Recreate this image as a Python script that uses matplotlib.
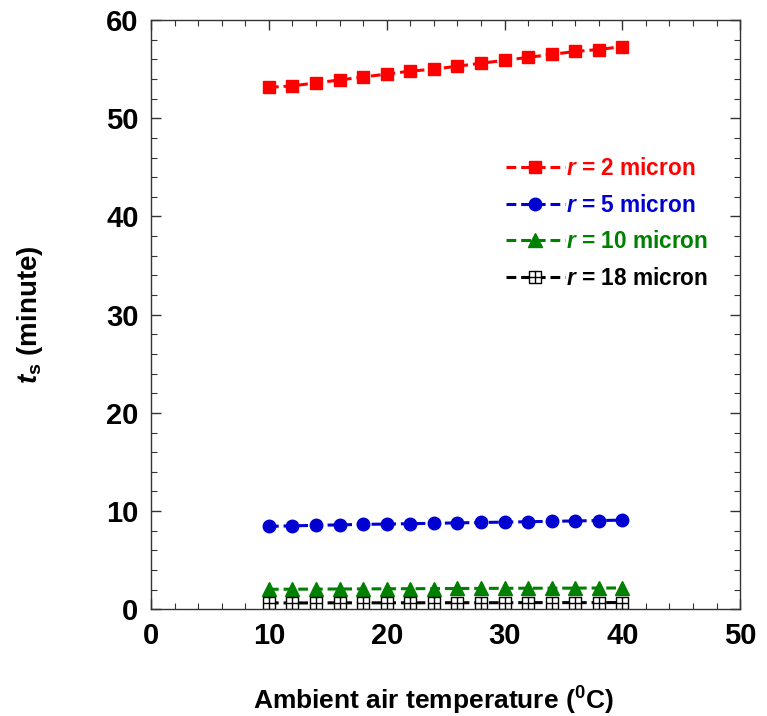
import matplotlib.pyplot as plt
from matplotlib.path import Path
from matplotlib.ticker import MultipleLocator

plt.rcParams["font.family"] = "Liberation Sans"
plt.rcParams["font.weight"] = "bold"
plt.rcParams["axes.labelweight"] = "bold"
plt.rcParams["mathtext.fontset"] = "custom"
plt.rcParams["mathtext.rm"] = "Liberation Sans:bold"
plt.rcParams["mathtext.it"] = "Liberation Sans:italic:bold"
plt.rcParams["mathtext.bf"] = "Liberation Sans:bold"

# data
temp = [10, 12, 14, 16, 18, 20, 22, 24, 26, 28, 30, 32, 34, 36, 38, 40]
t_r2 = [53.15, 53.3, 53.6, 53.9, 54.2, 54.5, 54.8, 55.0, 55.3, 55.6, 55.9, 56.2, 56.5, 56.8, 57.0, 57.3]
t_r5 = [8.45, 8.5, 8.55, 8.6, 8.65, 8.68, 8.72, 8.76, 8.8, 8.84, 8.88, 8.92, 8.96, 9.0, 9.04, 9.08]
t_r10 = [2.04, 2.05, 2.06, 2.07, 2.08, 2.09, 2.1, 2.11, 2.12, 2.13, 2.14, 2.15, 2.15, 2.16, 2.17, 2.17]
t_r18 = [0.65, 0.65, 0.65, 0.66, 0.66, 0.66, 0.66, 0.67, 0.67, 0.67, 0.67, 0.68, 0.68, 0.68, 0.68, 0.69]

# square-with-cross marker
box_plus = Path(
    [(-1, -1), (1, -1), (1, 1), (-1, 1), (-1, -1), (0, -1), (0, 1), (-1, 0), (1, 0)],
    [Path.MOVETO, Path.LINETO, Path.LINETO, Path.LINETO, Path.CLOSEPOLY,
     Path.MOVETO, Path.LINETO, Path.MOVETO, Path.LINETO],
)

fig = plt.figure(figsize=(7.67, 7.16), dpi=100)
ax = fig.add_axes([0.197, 0.149, 0.768, 0.823])

dash = (3.2, 1.6)
ax.plot(temp, t_r2, color="#ff0000", ls="--", dashes=dash, lw=2.2, marker="s", ms=8.5,
        label=r"$\mathit{r}$ = 2 micron")
ax.plot(temp, t_r5, color="#0000d0", ls="--", dashes=dash, lw=2.2, marker="o", ms=9,
        label=r"$\mathit{r}$ = 5 micron")
ax.plot(temp, t_r10, color="#008000", ls="--", dashes=dash, lw=2.2, marker="^", ms=9.5,
        label=r"$\mathit{r}$ = 10 micron")
ax.plot(temp, t_r18, color="black", ls="--", dashes=dash, lw=2.2, marker=box_plus, ms=8,
        mfc="white", mec="black", mew=1.0, label=r"$\mathit{r}$ = 18 micron")

ax.set_xlim(0, 50)
ax.set_ylim(0, 60)
ax.xaxis.set_major_locator(MultipleLocator(10))
ax.xaxis.set_minor_locator(MultipleLocator(2))
ax.yaxis.set_major_locator(MultipleLocator(10))
ax.yaxis.set_minor_locator(MultipleLocator(2))
ax.tick_params(which="both", direction="in", top=True, right=True, color="#333333")
ax.tick_params(which="major", length=7, width=1, labelsize=21, pad=9)
ax.tick_params(which="minor", length=4, width=0.8)
for s in ax.spines.values():
    s.set_color("#333333")
    s.set_linewidth(1.0)

ax.set_xlabel(r"Ambient air temperature ($^{\mathrm{0}}$C)", fontsize=19, labelpad=25)
ax.xaxis.label.set_x(0.48)
ax.set_ylabel(r"$\mathit{t}_{\mathrm{s}}$ (minute)", fontsize=20, labelpad=44)

leg = ax.legend(loc="upper right", bbox_to_anchor=(0.98, 0.802), frameon=False,
                fontsize=16.3, handlelength=2.6, handletextpad=0.05, labelspacing=0.6,
                labelcolor="linecolor")

fig.savefig("out.png", dpi=100)
